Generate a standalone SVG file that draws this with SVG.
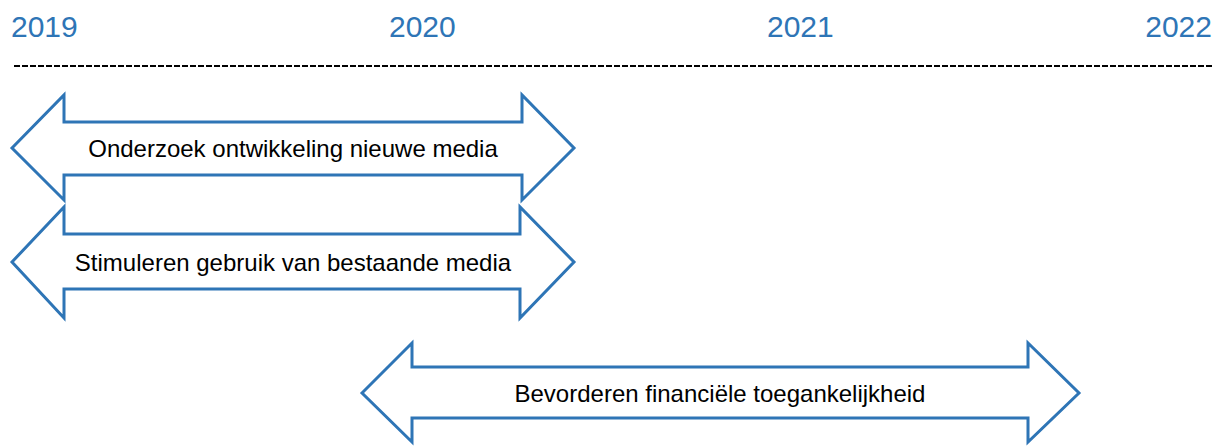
<svg xmlns="http://www.w3.org/2000/svg" width="1214" height="446" viewBox="0 0 1214 446">
<style>
.year{font-family:"Liberation Sans",Arial,sans-serif;font-size:30px;fill:#2E75B6}
.lbl{font-family:"Liberation Sans",Arial,sans-serif;font-size:24px;fill:#000;text-anchor:middle}
.arr{fill:#fff;stroke:#2E75B6;stroke-width:3;stroke-linejoin:miter}
</style>
<rect width="1214" height="446" fill="#fff"/>
<g id="timeline">
<text class="year" x="11" y="37">2019</text>
<text class="year" x="389" y="37">2020</text>
<text class="year" x="767" y="37">2021</text>
<text class="year" x="1212" y="37" text-anchor="end">2022</text>
<line x1="14" y1="66" x2="1212" y2="66" stroke="#000" stroke-width="2" stroke-dasharray="6 2"/>
</g>
<g id="node1">
<path class="arr" d="M12,148 L64,95 L64,122 L522,122 L522,95 L574,148 L522,200 L522,175 L64,175 L64,200 Z"/>
<text class="lbl" x="293" y="157">Onderzoek ontwikkeling nieuwe media</text>
</g>
<g id="node2">
<path class="arr" d="M12,262 L64,207 L64,234 L520,234 L520,207 L574,262 L520,318 L520,289 L64,289 L64,318 Z"/>
<text class="lbl" x="293" y="271">Stimuleren gebruik van bestaande media</text>
</g>
<g id="node3">
<path class="arr" d="M362,393 L412,343 L412,367 L1028,367 L1028,343 L1079,393 L1028,442 L1028,418 L412,418 L412,442 Z"/>
<text class="lbl" x="720" y="402">Bevorderen financiële toegankelijkheid</text>
</g>
<g id="connectors"></g>
</svg>
